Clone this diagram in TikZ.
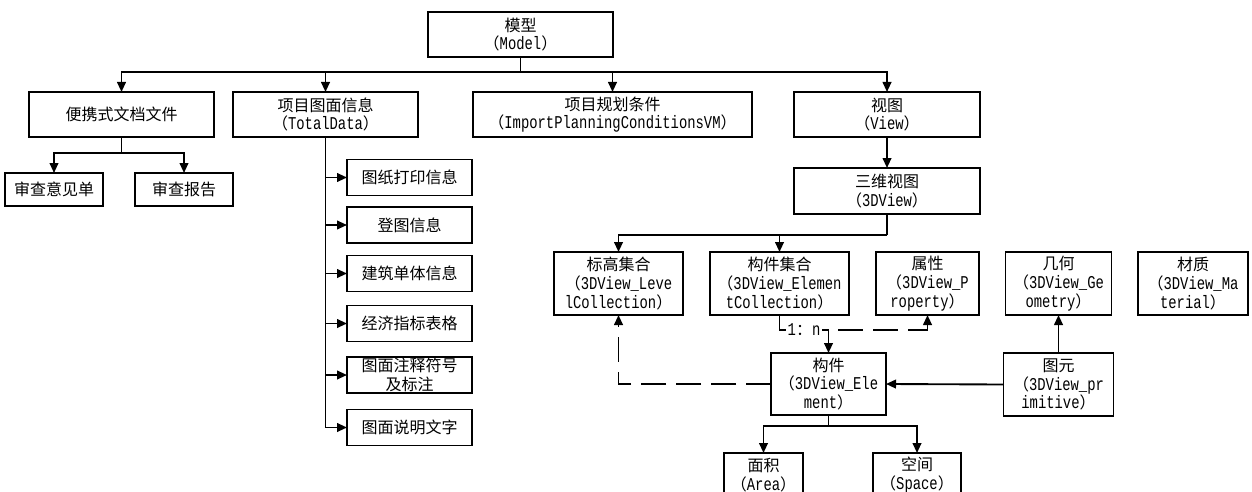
\documentclass[tikz,border=0pt]{standalone}
\usepackage{fontspec}
\setmainfont{Noto Sans CJK SC}
\newfontfamily\en[FakeStretch=0.77]{Liberation Mono}
\usetikzlibrary{arrows.meta}
\begin{document}
\begin{tikzpicture}[x=0.75pt,y=-0.75pt,
  box/.style={draw, line width=1.4pt, inner sep=0pt, outer sep=0pt, align=center,
    font=\fontsize{12}{14}\selectfont},
  conn/.style={line width=1.4pt},
  arr/.style={conn, -{Triangle[length=7.5pt,width=6.5pt]}},
  darr/.style={arr, dash pattern=on 18.75pt off 7.5pt},
  lbl/.style={fill=white, inner sep=1pt, font=\fontsize{12}{14}\selectfont},
]
\useasboundingbox (0,0) rectangle (1252,492);

% top level
\node[box, minimum width=138.75pt, minimum height=33.75pt] (model) at (520.5,34.5) {模型\\（{\en\fontsize{13.5}{14}\selectfont Model}）};
\node[box, minimum width=138.75pt, minimum height=33.75pt] (pdf) at (121.5,114.5) {便携式文档文件};
\node[box, minimum width=138.75pt, minimum height=33.75pt] (total) at (325.5,114.5) {项目图面信息\\（{\en\fontsize{13.5}{14}\selectfont TotalData}）};
\node[box, minimum width=209.25pt, minimum height=33.75pt] (import) at (612.5,114.5) {项目规划条件\\（{\en\fontsize{13.5}{14}\selectfont ImportPlanningConditionsVM}）};
\node[box, minimum width=139.5pt, minimum height=33.75pt] (view) at (887,114.5) {视图\\（{\en\fontsize{13.5}{14}\selectfont View}）};

% pdf children
\node[box, minimum width=73.5pt, minimum height=24.75pt] (yj) at (54,189.5) {审查意见单};
\node[box, minimum width=73.5pt, minimum height=24.75pt] (bg) at (184,189.5) {审查报告};

% total children
\node[box, minimum width=93.75pt, minimum height=27pt] (t1) at (409.5,177.5) {图纸打印信息};
\node[box, minimum width=93.75pt, minimum height=27pt] (t2) at (409.5,225) {登图信息};
\node[box, minimum width=93.75pt, minimum height=27pt] (t3) at (409.5,273.5) {建筑单体信息};
\node[box, minimum width=93.75pt, minimum height=27pt] (t4) at (409.5,323.5) {经济指标表格};
\node[box, minimum width=93.75pt, minimum height=27pt] (t5) at (409.5,375) {图面注释符号\\及标注};
\node[box, minimum width=93.75pt, minimum height=27pt] (t6) at (409.5,427.5) {图面说明文字};

% view branch
\node[box, minimum width=139.5pt, minimum height=34.5pt] (v3d) at (887,191) {三维视图\\（{\en\fontsize{13.5}{14}\selectfont 3DView}）};
\node[box, minimum width=96.75pt, minimum height=47.25pt] (level) at (618.5,283.5) {标高集合\\（{\en\fontsize{13.5}{14}\selectfont 3DView\_Leve}\\{\en\fontsize{13.5}{14}\selectfont lCollection}）};
\node[box, minimum width=104.25pt, minimum height=47.25pt] (ecol) at (779.5,283.5) {构件集合\\（{\en\fontsize{13.5}{14}\selectfont 3DView\_Elemen}\\{\en\fontsize{13.5}{14}\selectfont tCollection}）};
\node[box, minimum width=77.25pt, minimum height=47.25pt] (prop) at (927.5,283.5) {属性\\（{\en\fontsize{13.5}{14}\selectfont 3DView\_P}\\{\en\fontsize{13.5}{14}\selectfont roperty}）};
\node[box, minimum width=79.5pt, minimum height=47.25pt] (geom) at (1058.5,283.5) {几何\\（{\en\fontsize{13.5}{14}\selectfont 3DView\_Ge}\\{\en\fontsize{13.5}{14}\selectfont ometry}）};
\node[box, minimum width=82.5pt, minimum height=47.25pt] (mat) at (1193,283.5) {材质\\（{\en\fontsize{13.5}{14}\selectfont 3DView\_Ma}\\{\en\fontsize{13.5}{14}\selectfont terial}）};
\node[box, minimum width=86.25pt, minimum height=46.5pt] (elem) at (828.5,384) {构件\\（{\en\fontsize{13.5}{14}\selectfont 3DView\_Ele}\\{\en\fontsize{13.5}{14}\selectfont ment}）};
\node[box, minimum width=82.5pt, minimum height=47.25pt] (prim) at (1058.5,384.5) {图元\\（{\en\fontsize{13.5}{14}\selectfont 3DView\_pr}\\{\en\fontsize{13.5}{14}\selectfont imitive}）};
\node[box, minimum width=59.25pt, minimum height=33pt] (area) at (763.5,475) {面积\\（{\en\fontsize{13.5}{14}\selectfont Area}）};
\node[box, minimum width=66pt, minimum height=33pt] (space) at (917,475) {空间\\（{\en\fontsize{13.5}{14}\selectfont Space}）};

% connectors: model
\coordinate (b0) at (520.5,72);
\draw[conn] (model.south) -- (b0);
\draw[arr] (b0) -| (pdf.north);
\draw[arr] (b0) -| (total.north);
\draw[arr] (b0) -| (import.north);
\draw[arr] (b0) -| (view.north);

% pdf
\coordinate (b1) at (121.5,153);
\draw[conn] (pdf.south) -- (b1);
\draw[arr] (b1) -| (yj.north);
\draw[arr] (b1) -| (bg.north);

% total
\draw[conn] (total.south) -- (total.south |- t6.west);
\foreach \t in {t1,t2,t3,t4,t5,t6}
  \draw[arr] (total.south |- \t.west) -- (\t.west);

% view
\draw[arr] (view.south) -- (v3d.north);
\coordinate (b2) at (887,235);
\draw[conn] (v3d.south) -- (b2);
\draw[arr] (b2) -| (level.north);
\draw[arr] (b2) -| (ecol.north);

% element collection to element
\draw[arr] (ecol.south) |- (elem.north |- 0,330) node[lbl, pos=0.75] {{\en\fontsize{13.5}{14}\selectfont 1}：{\en\fontsize{13.5}{14}\selectfont n}} -- (elem.north);
\coordinate (dq) at (838,330);
\draw[darr] (dq) -| (prop.south);
\draw[darr] (elem.west) -| (level.south);

% primitive
\draw[arr] (prim.north) -- (geom.south);
\draw[arr] (prim.west) -- (elem.east);

% element children
\coordinate (b3) at (828.5,426);
\draw[conn] (elem.south) -- (b3);
\draw[arr] (b3) -| (area.north);
\draw[arr] (b3) -| (space.north);
\end{tikzpicture}
\end{document}
